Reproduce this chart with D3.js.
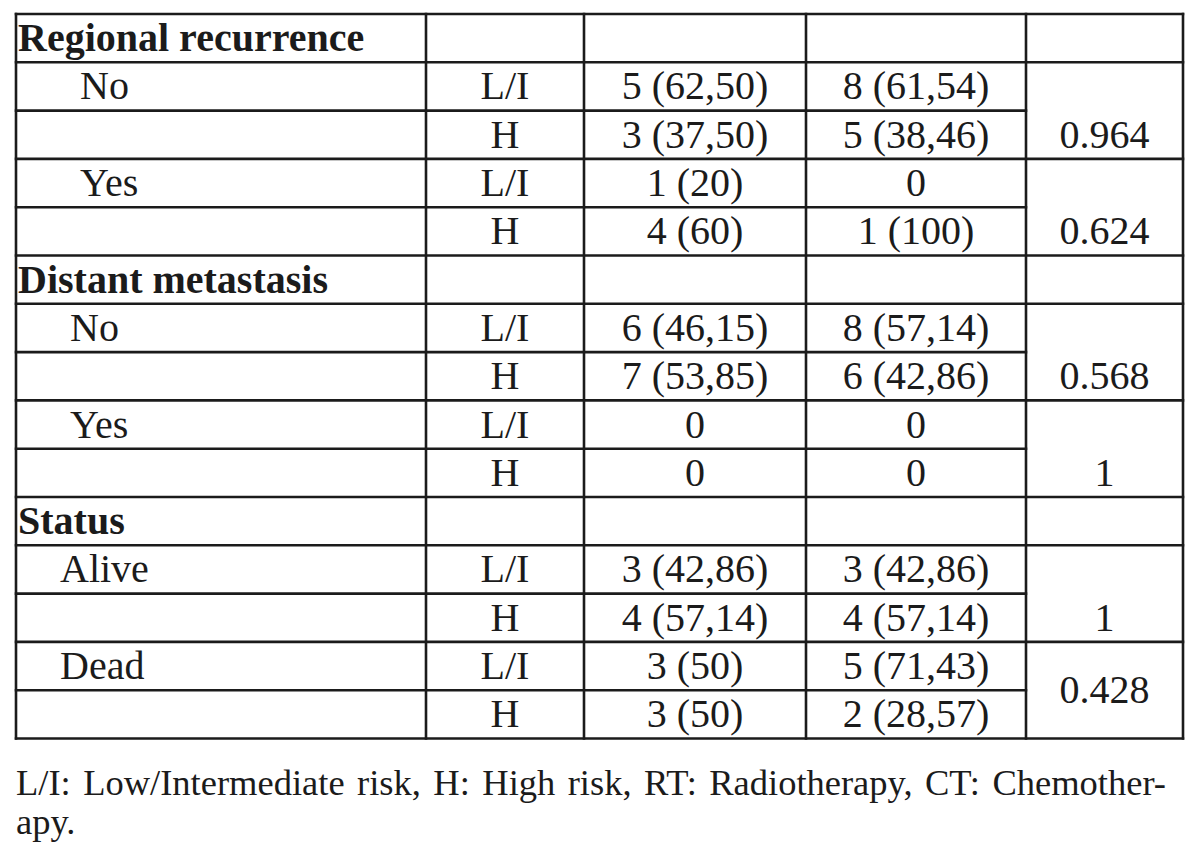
<!DOCTYPE html>
<html>
<head>
<meta charset="utf-8">
<script src="https://cdn.jsdelivr.net/npm/d3@7"></script>
<style>
  html, body { margin: 0; padding: 0; background: #fff; }
  svg { display: block; }
</style>
</head>
<body>
<div id="table"></div>
<script>
// table content
var groups = ["Regional recurrence", "Distant metastasis", "Status"];
var subgroups = [["No", "Yes"], ["No", "Yes"], ["Alive", "Dead"]];
var riskLevels = ["L/I", "H"];
var rtCol = ["5 (62,50)", "3 (37,50)", "1 (20)", "4 (60)",
             "6 (46,15)", "7 (53,85)", "0", "0",
             "3 (42,86)", "4 (57,14)", "3 (50)", "3 (50)"];
var ctCol = ["8 (61,54)", "5 (38,46)", "0", "1 (100)",
             "8 (57,14)", "6 (42,86)", "0", "0",
             "3 (42,86)", "4 (57,14)", "5 (71,43)", "2 (28,57)"];
var pValues = ["0.964", "0.624", "0.568", "1", "1", "0.428"];
var footnote = ["L/I: Low/Intermediate risk, H: High risk, RT: Radiotherapy, CT: Chemother-", "apy."];

var width = 1200, height = 847;
var colEdges = [16, 426, 584, 806, 1026, 1183];
var indent = [64, 54, 44];
var ink = "#1b1b1b";

// flatten into rows
var rows = [];
var k = 0, pair = 0;
groups.forEach(function(g, gi) {
  rows.push({type: "head", label: g, group: gi});
  subgroups[gi].forEach(function(s) {
    riskLevels.forEach(function(r, ri) {
      rows.push({type: "data", label: ri == 0 ? s : "", risk: r, ri: ri,
                 rt: rtCol[k], ct: ctCol[k], pair: pair, group: gi});
      k++;
    });
    pair++;
  });
});

var y = d3.scaleBand().domain(d3.range(rows.length)).range([14, 738.5]).padding(0);
var rh = y.bandwidth();

var svg = d3.select("#table").append("svg")
  .attr("width", width)
  .attr("height", height);

// horizontal rules, p column skips the line inside each pair
var hl = [];
for (var i = 0; i <= rows.length; i++) {
  var inside = i < rows.length && rows[i].type == "data" && rows[i].ri == 1;
  hl.push({y: i < rows.length ? y(i) : y(rows.length - 1) + rh,
           x2: inside ? colEdges[4] : colEdges[5]});
}
svg.selectAll("line.h").data(hl).enter().append("line")
  .attr("class", "h")
  .attr("x1", colEdges[0] - 1.25).attr("x2", function(d) { return d.x2 + 1.25; })
  .attr("y1", function(d) { return d.y; }).attr("y2", function(d) { return d.y; })
  .attr("stroke", ink).attr("stroke-width", 2.6);

svg.selectAll("line.v").data(colEdges).enter().append("line")
  .attr("class", "v")
  .attr("x1", function(d) { return d; }).attr("x2", function(d) { return d; })
  .attr("y1", y(0) - 1.25).attr("y2", y(rows.length - 1) + rh + 1.25)
  .attr("stroke", ink).attr("stroke-width", 2.6);

var font = "'Liberation Serif', 'Times New Roman', serif";
var fs = 40;
var base = rh / 2 + 13;
function mid(c) { return (colEdges[c] + colEdges[c + 1]) / 2; }

var cells = svg.selectAll("g.row").data(rows).enter().append("g")
  .attr("class", "row")
  .attr("transform", function(d, i) { return "translate(0," + y(i) + ")"; })
  .style("font-family", font).style("font-size", fs + "px").attr("fill", ink);

cells.filter(function(d) { return d.type == "head"; }).append("text")
  .attr("x", colEdges[0] + 2).attr("y", base)
  .style("font-weight", "bold")
  .text(function(d) { return d.label; });

var dataRows = cells.filter(function(d) { return d.type == "data"; });
dataRows.append("text")
  .attr("x", function(d) { return colEdges[0] + indent[d.group]; }).attr("y", base)
  .text(function(d) { return d.label; });
dataRows.append("text")
  .attr("x", mid(1)).attr("y", base).attr("text-anchor", "middle")
  .text(function(d) { return d.risk; });
dataRows.append("text")
  .attr("x", mid(2)).attr("y", base).attr("text-anchor", "middle")
  .text(function(d) { return d.rt; });
dataRows.append("text")
  .attr("x", mid(3)).attr("y", base).attr("text-anchor", "middle")
  .text(function(d) { return d.ct; });

// p values sit in the lower row of each pair, last one centred in the merged cell
dataRows.filter(function(d) { return d.ri == 1; }).append("text")
  .attr("x", mid(4)).attr("text-anchor", "middle")
  .attr("y", function(d) { return d.pair == pValues.length - 1 ? base - rh / 2 : base; })
  .text(function(d) { return pValues[d.pair]; });

// footnote, first line justified
var fn = svg.append("g").style("font-family", font).style("font-size", "36.5px").attr("fill", ink);
var line1 = fn.append("text").attr("x", colEdges[0]).attr("y", 795).text(footnote[0]);
var natural = line1.node().getComputedTextLength();
var gaps = footnote[0].split(" ").length - 1;
line1.attr("word-spacing", Math.max(0, (1166 - colEdges[0] - natural) / gaps));
fn.append("text").attr("x", colEdges[0]).attr("y", 834).text(footnote[1]);
</script>
</body>
</html>
